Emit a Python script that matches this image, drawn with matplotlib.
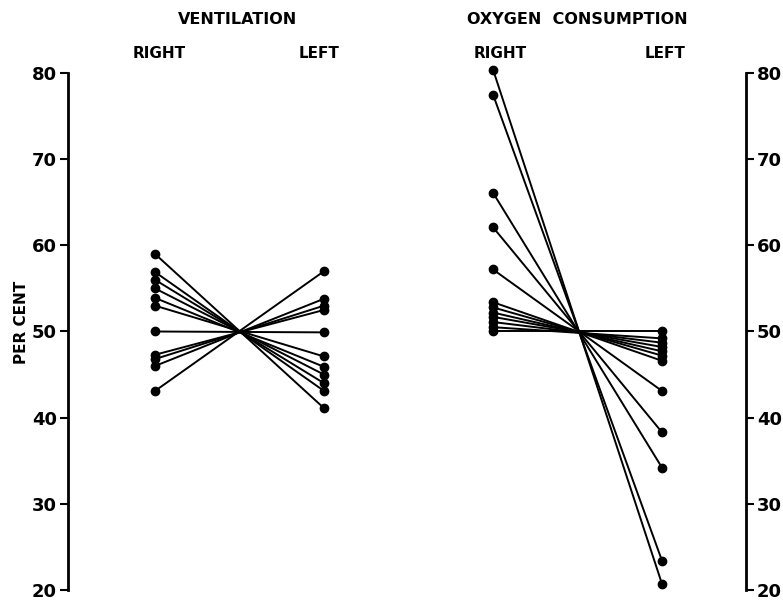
import matplotlib.pyplot as plt

# per cent values (right lung / left lung)
vent_right = [59.0, 56.9, 56.0, 55.0, 53.9, 53.0, 50.0, 47.3, 46.8, 46.0, 43.1]
vent_left = [41.1, 43.1, 44.0, 45.0, 45.9, 47.1, 49.9, 52.5, 53.0, 53.8, 57.0]

oxy_right = [80.4, 77.5, 66.1, 62.1, 57.2, 53.4, 52.8, 52.2, 51.7, 51.1, 50.5, 50.0]
oxy_left = [20.7, 23.4, 34.2, 38.3, 43.1, 46.6, 47.2, 47.7, 48.2, 48.7, 49.2, 50.0]

yticks = [20, 30, 40, 50, 60, 70, 80]
col_pos = [0, 1, 2, 3]
col_labels = ['RIGHT', 'LEFT', 'RIGHT', 'LEFT']
panel_titles = ['VENTILATION', 'OXYGEN  CONSUMPTION']

plt.rcParams['font.family'] = 'DejaVu Sans'
plt.rcParams['font.weight'] = 'bold'

fig = plt.figure(figsize=(7.83, 6.03), dpi=100)
top_px, bot_px = 73, 590
ax = fig.add_axes([68/783, 1 - bot_px/603, (746-68)/783, (bot_px-top_px)/603])
h = bot_px - top_px

for r, l in zip(vent_right, vent_left):
    ax.plot([col_pos[0], col_pos[1]], [r, l], color='black', lw=1.4,
            marker='o', markersize=6, clip_on=False)
for r, l in zip(oxy_right, oxy_left):
    ax.plot([col_pos[2], col_pos[3]], [r, l], color='black', lw=1.4,
            marker='o', markersize=6, clip_on=False)

ax.set_xlim(-0.515, 3.497)
ax.set_ylim(20, 80)
ax.set_xticks([])
ax.set_yticks(yticks)
ax.set_yticklabels([str(t) for t in yticks], fontsize=13, fontweight='bold')
ax.tick_params(axis='y', direction='out', length=6, width=1.5,
               labelleft=True, labelright=True, left=True, right=True, pad=2)
ax.spines['top'].set_visible(False)
ax.spines['bottom'].set_visible(False)
ax.spines['left'].set_linewidth(2)
ax.spines['right'].set_linewidth(2)

fig.text(22/783, 1 - 322/603, 'PER CENT', rotation=90, ha='center', va='center',
         fontsize=11, fontweight='bold')

# column and panel headings
trans = ax.get_xaxis_transform()
head_x = [0.024, 0.97, 2.04, 3.02]
for x, lab in zip(head_x, col_labels):
    ax.text(x, 1 + (top_px - 53)/h, lab, transform=trans,
            ha='center', va='center', fontsize=11, fontweight='bold')
ax.text(0.49, 1 + (top_px - 19)/h, panel_titles[0], transform=trans,
        ha='center', va='center', fontsize=11.5, fontweight='bold')
ax.text(2.5, 1 + (top_px - 19)/h, panel_titles[1], transform=trans,
        ha='center', va='center', fontsize=11.5, fontweight='bold')

fig.savefig('out.png', dpi=100)
